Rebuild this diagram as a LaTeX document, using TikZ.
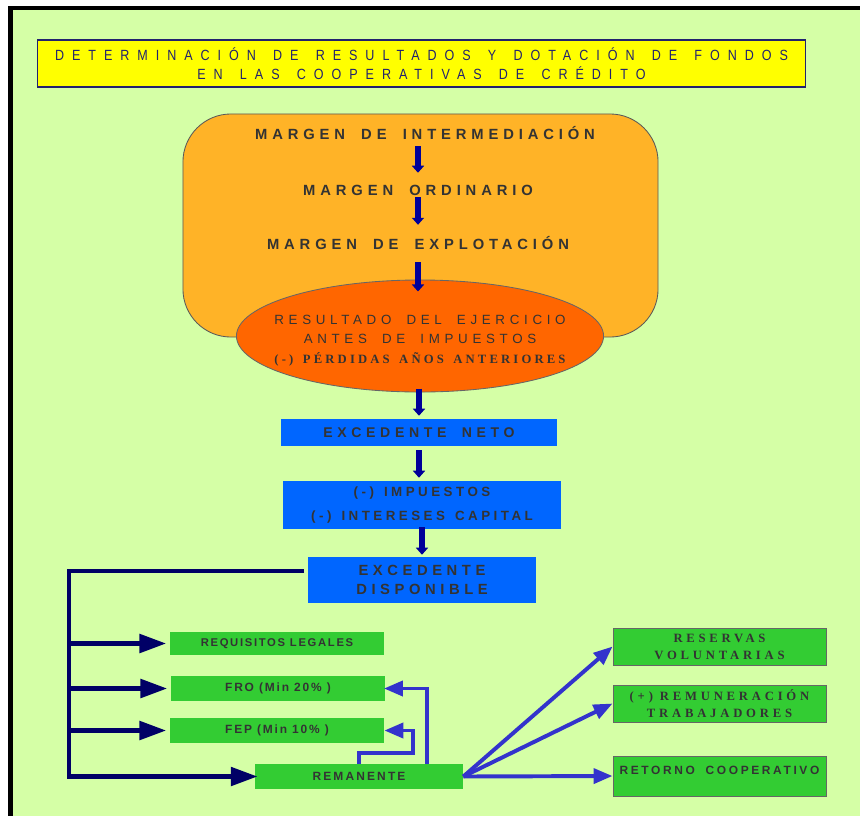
\documentclass[tikz,border=0pt]{standalone}
\usepackage{fontspec}
\setmainfont{Liberation Sans}
\newfontfamily\ancha[WordSpace=1.8]{Liberation Sans}
\newfontfamily\media[WordSpace=1.4]{Liberation Sans}
\newfontfamily\titulofuente[FakeStretch=0.85,WordSpace=1.5]{Liberation Sans}
\newfontfamily\romana{Liberation Serif}
\newfontfamily\romanaancha[WordSpace=1.5]{Liberation Serif}
\usetikzlibrary{shapes.geometric,arrows.meta}
\definecolor{fondo}{HTML}{D5FFA6}
\definecolor{amarillo}{HTML}{FFFF00}
\definecolor{naranja}{HTML}{FFB327}
\definecolor{rojizo}{HTML}{FF6600}
\definecolor{azul}{HTML}{0066FF}
\definecolor{verde}{HTML}{33CC33}
\definecolor{marino}{HTML}{000066}
\definecolor{flechaazul}{HTML}{000099}
\definecolor{azulenlace}{HTML}{3333CC}
\definecolor{gris}{HTML}{333333}
\definecolor{tituloazul}{HTML}{22226E}
\def\letras#1#2#3{\fontsize{#1}{#2}\selectfont\bfseries\addfontfeatures{LetterSpace=#3}}
\def\fina#1#2#3{\fontsize{#1}{#2}\selectfont\addfontfeatures{LetterSpace=#3}}
\def\serif#1#2#3{\fontsize{#1}{#2}\selectfont\bfseries\addfontfeatures{LetterSpace=#3}}

\begin{document}
\begin{tikzpicture}[x=0.025cm, y=-0.025cm,
    texto/.style={inner sep=0pt, text=gris, align=center},
    caja/.style 2 args={texto, minimum width=#1, minimum height=#2},
    margen/.style={texto, text height=7.5pt, text depth=0pt, font=\ancha\letras{10.5}{13.5}{33}},
    flecha/.style={draw=flechaazul, line width=4.3pt, -{Triangle[length=5pt,width=8.5pt]}},
    rama/.style={draw=marino, line width=3.2pt, line join=miter, -{Triangle[length=19pt,width=13pt]}},
    enlace/.style={draw=azulenlace, line width=2.8pt, line join=miter, -{Triangle[length=13.5pt,width=10.6pt]}}]
    %%%%% START %%%%%

    \useasboundingbox (0,0) rectangle (860,816);
    \fill[white] (0,0) rectangle (860,816);
    \fill[fondo] (12,10) rectangle (860,816);
    \fill[black] (8,6) rectangle (860,10);
    \fill[black] (8,6) rectangle (12.5,816);

    % titulo
    \node[caja={19.175cm}{1.175cm}, fill=amarillo, draw=tituloazul, line width=0.8pt, text=tituloazul,
          font=\titulofuente\fina{10.5}{13.5}{54}] (titulo) at (421.5,63.5)
        {DETERMINACIÓN DE RESULTADOS Y DOTACIÓN DE FONDOS\\EN LAS COOPERATIVAS DE CRÉDITO};

    % margenes
    \node[caja={11.875cm}{5.575cm}, fill=naranja, draw=black!65, line width=0.6pt, rounded corners=1.2cm] (bloque) at (420.5,225.5) {};
    \node[margen] (inter) at (425,134) {MARGEN DE INTERMEDIACIÓN};
    \node[margen] (ordin) at (418,190) {MARGEN ORDINARIO};
    \node[margen] (explot) at (418,244) {MARGEN DE EXPLOTACIÓN};

    \node[ellipse, fill=rojizo, draw=black!60, line width=0.6pt, inner sep=0pt,
          minimum width=9.175cm, minimum height=2.8cm] (resultado) at (420,336) {};
    \node[texto, font=\ancha\fina{9.5}{14}{35}] (resultadotexto) at (420,340.5)
        {RESULTADO DEL EJERCICIO\\ANTES DE IMPUESTOS\\{\romanaancha\serif{9}{13}{25}(-) PÉRDIDAS AÑOS ANTERIORES}};

    % cajas azules
    \node[caja={6.9cm}{0.675cm}, fill=azul, font=\ancha\letras{10}{13.5}{33}] (neto) at (419,432.5) {EXCEDENTE NETO};
    \node[caja={6.95cm}{1.2cm}, fill=azul, font=\media\letras{9.5}{17.7}{26}] (impuestos) at (422,505) {(-) IMPUESTOS\\(-) INTERESES CAPITAL};
    \node[caja={5.7cm}{1.15cm}, fill=azul, font=\letras{10.5}{13.5}{31}] (disponible) at (422,580) {EXCEDENTE\\DISPONIBLE};

    % fondos
    \node[caja={5.35cm}{0.575cm}, fill=verde, font=\letras{8}{13.5}{15}] (requisitos) at (277,643.5) {REQUISITOS LEGALES};
    \node[caja={5.35cm}{0.625cm}, fill=verde, font=\letras{8.5}{13.5}{15}] (fro) at (278,688.5) {FRO (Min 20\% )};
    \node[caja={5.35cm}{0.625cm}, fill=verde, font=\letras{8.5}{13.5}{15}] (fep) at (277,730.5) {FEP (Min 10\% )};
    \node[caja={5.2cm}{0.625cm}, fill=verde, font=\letras{8.5}{13.5}{18}] (remanente) at (359,776.5) {REMANENTE};

    \node[caja={5.325cm}{0.925cm}, fill=verde, draw=black!60, line width=0.6pt, font=\romana\serif{9}{12}{30}] (reservas) at (719.5,646.5) {RESERVAS\\VOLUNTARIAS};
    \node[caja={5.325cm}{0.925cm}, fill=verde, draw=black!60, line width=0.6pt, font=\romana\serif{9}{12}{30}] (remuneracion) at (719.5,703.5) {(+) REMUNERACIÓN\\TRABAJADORES};
    \node[caja={5.325cm}{1cm}, fill=verde, draw=black!60, line width=0.6pt, text height=6.5pt, text depth=9pt,
          font=\ancha\letras{8.5}{13.5}{22}] (retorno) at (719.5,776) {RETORNO COOPERATIVO};

    % flechas verticales
    \draw[flecha, shorten <=4.7pt, shorten >=8.3pt] (inter.south -| ordin) -- (ordin.north);
    \draw[flecha, shorten <=1.2pt, shorten >=9.7pt] (ordin.south) -- (explot.north);
    \draw[flecha, shorten <=9pt, shorten >=-8.5pt] (explot.south) -- (explot.south |- resultado.north);
    \draw[flecha, shorten <=-2.8pt, shorten >=2.1pt] (neto.north |- resultado.south) -- (neto.north);
    \draw[flecha, shorten <=2.8pt, shorten >=2.1pt] (neto.south) -- (neto.south |- impuestos.north);
    \draw[flecha, shorten <=-1.4pt, shorten >=1.4pt] (impuestos.south) -- (disponible.north);

    % reparto
    \coordinate (tronco) at (304,571);
    \coordinate (esquina) at (69,571);
    \draw[rama, shorten >=-2pt] (tronco) -- (esquina) |- (remanente.west);
    \foreach \destino in {requisitos, fro, fep}
        \draw[rama, shorten >=2.5pt] (esquina |- \destino.west) -- (\destino.west);

    \draw[enlace, shorten >=-1pt] ([xshift=1.7cm]remanente.north) |- (fro.east);
    \draw[enlace] (remanente.north) |- ++(54,-11) |- (fep.east);
    \foreach \destino in {reservas, remuneracion, retorno}
        \draw[enlace] (remanente.east) -- (\destino.west);

    %%%%% END %%%%%
\end{tikzpicture}
\end{document}
